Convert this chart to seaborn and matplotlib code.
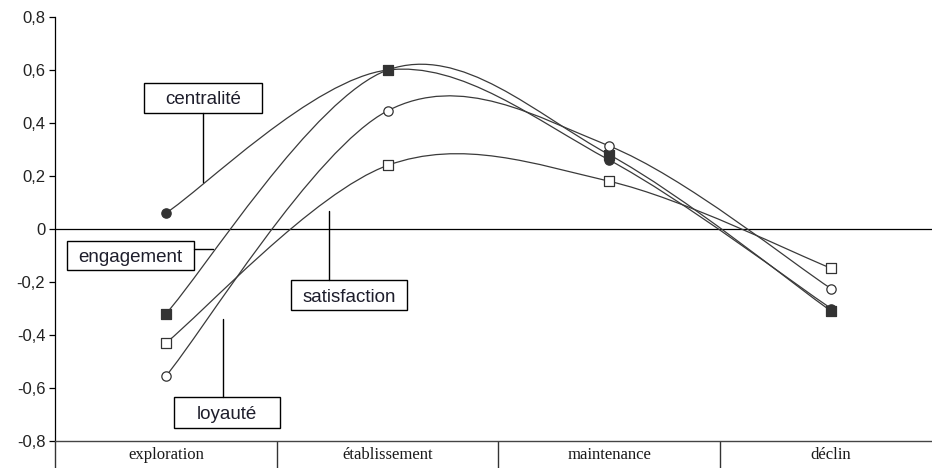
import numpy as np
import pandas as pd
import seaborn as sns
import matplotlib
matplotlib.use("Agg")
import matplotlib.pyplot as plt
from matplotlib.path import Path
from matplotlib.patches import PathPatch, Rectangle
from matplotlib.lines import Line2D

# data
stages = ["exploration", "établissement", "maintenance", "déclin"]
centralite = [0.06, 0.60, 0.26, -0.30]
engagement = [-0.32, 0.60, 0.28, -0.31]
loyaute = [-0.555, 0.446, 0.313, -0.225]
satisfaction = [-0.43, 0.24, 0.18, -0.148]
yticks = [-0.8, -0.6, -0.4, -0.2, 0, 0.2, 0.4, 0.6, 0.8]
ytick_labels = ["-0,8", "-0,6", "-0,4", "-0,2", "0", "0,2", "0,4", "0,6", "0,8"]

series = {
    "centralité": centralite,
    "engagement": engagement,
    "loyauté": loyaute,
    "satisfaction": satisfaction,
}
styles = {
    "centralité": dict(marker="o", fc="#333333"),
    "engagement": dict(marker="s", fc="#333333"),
    "loyauté": dict(marker="o", fc="white"),
    "satisfaction": dict(marker="s", fc="white"),
}

df = pd.DataFrame([
    {"serie": name, "x": i, "y": v}
    for name, vals in series.items()
    for i, v in enumerate(vals)
])

sns.set_style("white")
plt.rcParams["font.family"] = ["Liberation Sans", "DejaVu Sans"]

W, H = 932, 468
fig = plt.figure(figsize=(W / 100, H / 100), dpi=100)
ax = fig.add_axes([55 / W, 27 / H, 887 / W, 424 / H])
line_col = "#3a3a3a"


def smooth_path(xs, ys):
    # excel-like smoothed line: cubic bezier through every point
    pts = np.column_stack([xs, ys]).astype(float)
    ext = np.vstack([pts[0], pts, pts[-1]])
    verts = [pts[0]]
    codes = [Path.MOVETO]
    for i in range(len(pts) - 1):
        p0, p1, p2, p3 = ext[i], ext[i + 1], ext[i + 2], ext[i + 3]
        verts += [p1 + (p2 - p0) / 6, p2 - (p3 - p1) / 6, p2]
        codes += [Path.CURVE4] * 3
    return Path(verts, codes)


for name, vals in series.items():
    sub = df[df["serie"] == name]
    ax.add_patch(PathPatch(smooth_path(sub["x"], sub["y"]), fill=False,
                           ec=line_col, lw=0.9, zorder=2))
    st = styles[name]
    sns.scatterplot(data=sub, x="x", y="y", marker=st["marker"], s=45,
                    color=st["fc"], edgecolor="#333333", linewidth=0.9,
                    ax=ax, zorder=3, legend=False)

ax.axhline(0, color="black", lw=0.9, zorder=1)

ax.set_xlim(-0.5, 3.5)
ax.set_ylim(-0.8, 0.8)
ax.set_yticks(yticks)
ax.set_yticklabels(ytick_labels, fontsize=12, color="#222222")
ax.set_xticks(range(len(stages)))
ax.set_xticklabels(stages, family="Liberation Serif", fontsize=12, color="#1a1a1a")
ax.set_xticks(np.arange(-0.5, len(stages), 1.0), minor=True)
ax.tick_params(axis="x", which="major", bottom=True, length=0, pad=4)
ax.tick_params(axis="x", which="minor", bottom=True, length=20, width=1,
               direction="out", color="#333333")
ax.tick_params(axis="y", length=4, width=0.9, direction="out", color="black",
               left=True, pad=3)
ax.set_xlabel("")
ax.set_ylabel("")
for s in ["top", "right"]:
    ax.spines[s].set_visible(False)
ax.spines["left"].set_color("black")
ax.spines["bottom"].set_color("#444444")
ax.spines["left"].set_linewidth(0.9)
ax.spines["bottom"].set_linewidth(1.0)


# label boxes, placed in image pixels
def fx(x):
    return x / W


def fy(y):
    return 1 - y / H


labels = [
    # text, box (x0, y0, x1, y1), leader line (x0, y0, x1, y1)
    ("centralité", (144, 83, 262, 113), (203, 113, 203, 182)),
    ("engagement", (67, 241, 194, 270), (194, 249, 213, 249)),
    ("satisfaction", (291, 280, 407, 310), (329, 211, 329, 280)),
    ("loyauté", (174, 397, 280, 428), (223, 319, 223, 397)),
]
for txt, (x0, y0, x1, y1), (lx0, ly0, lx1, ly1) in labels:
    fig.add_artist(Rectangle((fx(x0), fy(y1)), fx(x1) - fx(x0), fy(y0) - fy(y1),
                             transform=fig.transFigure, fc="white",
                             ec="black", lw=1.0, zorder=5))
    fig.text(fx((x0 + x1) / 2), fy((y0 + y1) / 2 + 2), txt, ha="center",
             va="center", fontsize=13.5, color="#1e1e2c", zorder=6)
    fig.add_artist(Line2D([fx(lx0), fx(lx1)], [fy(ly0), fy(ly1)],
                          transform=fig.transFigure, color="black", lw=1.0,
                          zorder=5))

fig.savefig("out.png", dpi=100)
